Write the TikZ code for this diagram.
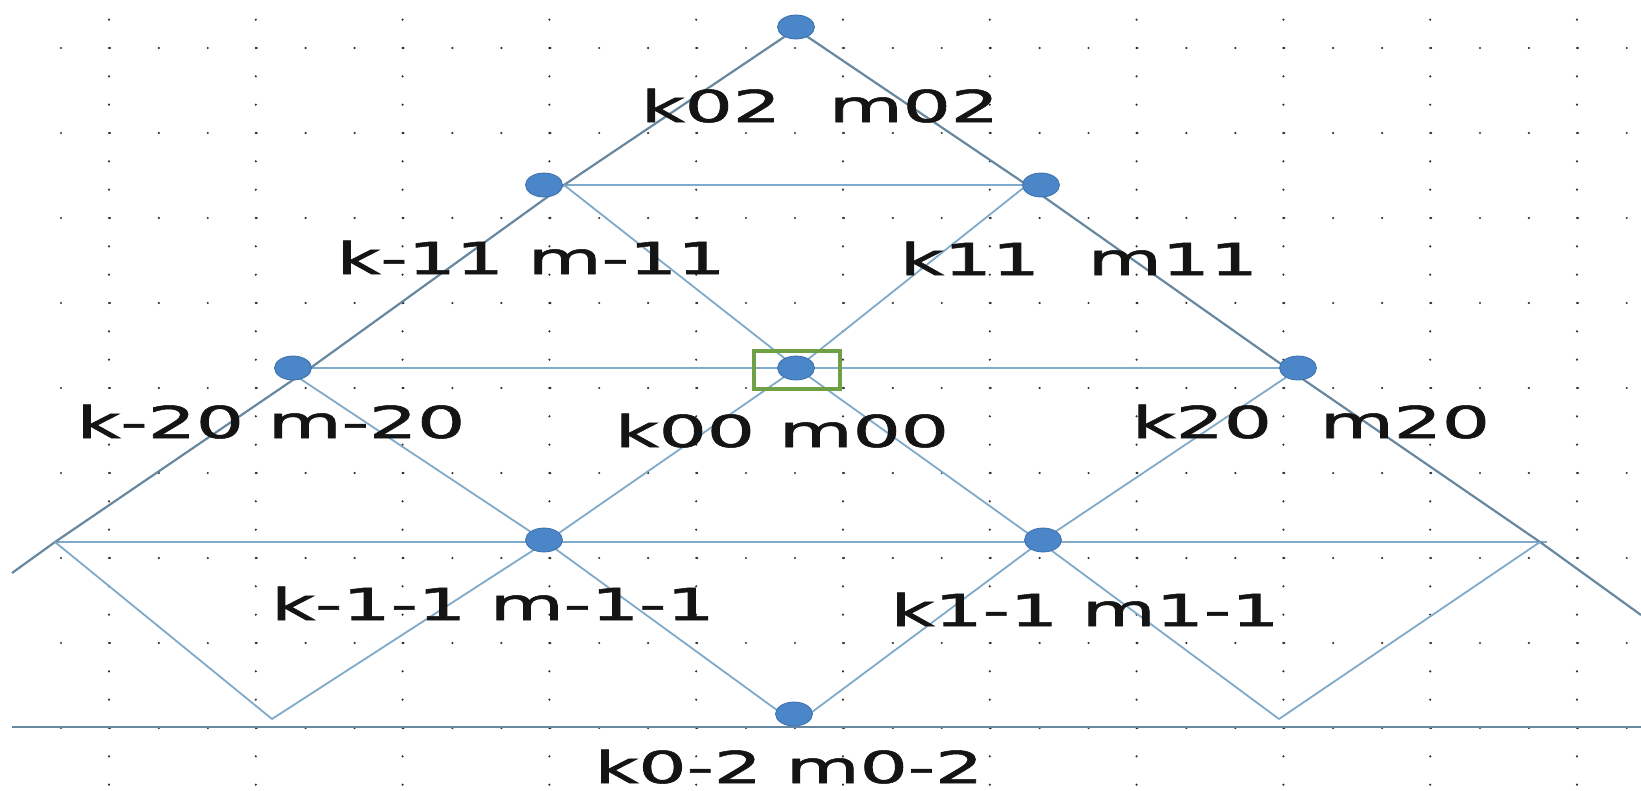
\documentclass[tikz,border=0pt]{standalone}
\usepackage{fontspec}
\setmainfont{DejaVu Sans}
\newfontfamily\labfont[FakeBold=1.2]{DejaVu Sans}
\usetikzlibrary{shapes.geometric}
\definecolor{dotblue}{RGB}{74,134,200}
\definecolor{dotedge}{RGB}{62,112,172}
\definecolor{outerline}{RGB}{104,136,160}
\definecolor{innerline}{RGB}{128,170,202}
\definecolor{boxgreen}{RGB}{112,160,70}
\definecolor{griddot}{RGB}{50,50,50}
\definecolor{labink}{RGB}{20,20,20}
\tikzset{
  latdot/.style={ellipse, fill=dotblue, draw=dotedge, line width=0.8pt,
    minimum width=37pt, minimum height=24pt, inner sep=0pt},
  lab/.style={anchor=base, inner sep=0pt, text=labink,
    font=\labfont\fontsize{44}{50}\selectfont},
  outerl/.style={draw=outerline, line width=2.2pt, line join=round},
  innerl/.style={draw=innerline, line width=1.8pt, line join=round},
  selbox/.style={draw=boxgreen, line width=4pt, minimum width=86pt,
    minimum height=38pt, inner sep=0pt},
}
\newcommand{\widetext}[1]{\scalebox{1.72}[1]{#1}}
\begin{document}
\begin{tikzpicture}[x=1pt,y=-1pt]
\useasboundingbox (0,0) rectangle (1641,790);
\fill[white] (0,0) rectangle (1641,790);
% dotted grid
\foreach \r in {0,...,8}{
  \foreach \i in {0,...,32}{
    \fill[griddot] ({61+48.93*\i},{48+85*\r}) circle (1.2pt);
  }
}
\foreach \j in {0,...,10}{
  \foreach \m in {-1,...,26}{
    \fill[griddot] ({109+146.8*\j},{48+28.333*\m}) circle (1.2pt);
  }
}
% lattice junctions
\coordinate (jT) at (796,29);
\coordinate (jL1) at (564,185);
\coordinate (jR1) at (1027,185);
\coordinate (jL2) at (309,369);
\coordinate (jL2i) at (284,368);
\coordinate (jC) at (797,368);
\coordinate (jR2) at (1288,369);
\coordinate (jR2i) at (1300,368);
\coordinate (jL3) at (546,542);
\coordinate (jR3) at (1040,542);
\coordinate (jB) at (796,724);
\coordinate (jXL) at (55,542);
\coordinate (jXR) at (1540,542);
\coordinate (jXRe) at (1547,542);
\coordinate (jEL) at (12,573);
\coordinate (jER) at (1641,615);
\coordinate (jVL) at (272,719);
\coordinate (jVR) at (1279,719);
\coordinate (jBL) at (12,727);
\coordinate (jBR) at (1641,727);
\coordinate (jH1L) at (544,185);
\coordinate (jH1R) at (1041,185);
% horizontals
\draw[innerl] (jH1L) -- (jH1R);
\draw[innerl] (jL2i) -- (jR2i);
\draw[innerl] (jXL) -- (jXRe);
\draw[outerl] (jBL) -- (jBR);
% outer sides
\draw[outerl] (jEL) -- (jXL) -- (jL2) -- (jL1) -- (jT);
\draw[outerl] (jT) -- (jR1) -- (jR2) -- (jXR) -- (jER);
% inner diagonals
\draw[innerl] (jL1) -- (jC) -- (jR3) -- (jVR) -- (jXR);
\draw[innerl] (jR1) -- (jC) -- (jL3) -- (jVL) -- (jXL);
\draw[innerl] (jL2i) -- (jL3) -- (jB) -- (jR3) -- (jR2i);
% selection box
\node[selbox] (sel) at (797,370) {};
% dots
\node[latdot] (nT) at (796,27) {};
\node[latdot] (nL1) at (544,185) {};
\node[latdot] (nR1) at (1041,185) {};
\node[latdot] (nL2) at (293,368) {};
\node[latdot] (nC) at (796,368) {};
\node[latdot] (nR2) at (1298,368) {};
\node[latdot] (nL3) at (544,540) {};
\node[latdot] (nR3) at (1043,540) {};
\node[latdot] (nB) at (794,714) {};
% labels
\node[lab] (tT) at (820,122) {\widetext{k02\ \ m02}};
\node[lab] (tL1) at (531,274) {\widetext{k-11 m-11}};
\node[lab] (tR1) at (1079,275) {\widetext{k11\ \ m11}};
\node[lab] (tL2) at (271,438) {\widetext{k-20 m-20}};
\node[lab] (tC) at (782,447) {\widetext{k00 m00}};
\node[lab] (tR2) at (1311,438) {\widetext{k20\ \ m20}};
\node[lab] (tL3) at (493,620) {\widetext{k-1-1 m-1-1}};
\node[lab] (tR3) at (1085,626) {\widetext{k1-1 m1-1}};
\node[lab] (tB) at (789,783) {\widetext{k0-2 m0-2}};
\end{tikzpicture}
\end{document}
